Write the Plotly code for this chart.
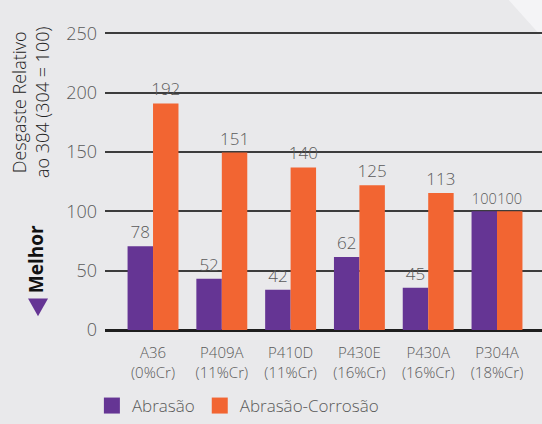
import plotly.graph_objects as go

categories = ["A36<br>(0%Cr)", "P409A<br>(11%Cr)", "P410D<br>(11%Cr)",
              "P430E<br>(16%Cr)", "P430A<br>(16%Cr)", "P304A<br>(18%Cr)"]
abrasao_bar = [70.6, 43.2, 34, 61.5, 35.7, 100]
abrasao_corr_bar = [191, 149.5, 137, 122, 115.5, 100]
abrasao_labels = ["78", "52", "42", "62", "45", "100"]
abrasao_corr_labels = ["192", "151", "140", "125", "113", "100"]
y_ticks = [0, 50, 100, 150, 200, 250]

PURPLE = "#653594"
ORANGE = "#f26532"
FONT = "Open Sans"
GRAY = "#5a5a5a"
label_sizes = [17, 17, 17, 17, 17, 14.5]

fig = go.Figure()
fig.add_trace(go.Bar(x=categories, y=abrasao_bar, name="Abrasão",
                     marker=dict(color=PURPLE, line=dict(width=0)),
                     text=abrasao_labels, textposition="outside", constraintext="none",
                     textfont=dict(family=FONT, size=label_sizes, color=GRAY, weight=300),
                     cliponaxis=False, showlegend=False))
fig.add_trace(go.Bar(x=categories, y=abrasao_corr_bar, name="Abrasão-Corrosão",
                     marker=dict(color=ORANGE, line=dict(width=0)),
                     text=abrasao_corr_labels, textposition="outside", constraintext="none",
                     textfont=dict(family=FONT, size=label_sizes, color=GRAY, weight=300),
                     cliponaxis=False, showlegend=False))
# legend entries
for nm, col in [("Abrasão", PURPLE), ("Abrasão-Corrosão", ORANGE)]:
    fig.add_trace(go.Scatter(x=[None], y=[None], mode="markers", name=nm,
                             marker=dict(symbol="square", size=16, color=col)))

fig.update_layout(
    width=542, height=424,
    margin=dict(l=105, r=0, t=31, b=90),
    paper_bgcolor="#e9e9eb", plot_bgcolor="rgba(0,0,0,0)",
    barmode="group", bargap=0.26, bargroupgap=0,
    font=dict(family=FONT, color=GRAY),
    legend=dict(orientation="h", x=-0.03, xanchor="left", y=-0.195, yanchor="top",
                font=dict(size=17, color=GRAY, weight=300), itemsizing="trace",
                bgcolor="rgba(0,0,0,0)", tracegroupgap=0),
    xaxis=dict(range=[-0.698, 5.654], showgrid=False, showline=False, ticks="",
               ticklabelstandoff=12,
               tickfont=dict(size=15, color=GRAY, weight=300)),
    yaxis=dict(range=[0, 252], tickvals=y_ticks, showgrid=True,
               gridcolor="#3c3c3c", gridwidth=1.5, zeroline=True,
               zerolinecolor="#1e1e1e", zerolinewidth=3, showline=False,
               ticks="", ticklabelstandoff=7,
               tickfont=dict(size=18, color=GRAY, weight=300)),
    shapes=[
        dict(type="path", xref="paper", yref="paper",
             path="M 0.92,1.11 L 1.0,1.11 L 1.0,0.98 Z",
             fillcolor="#f4f4f6", line=dict(width=0), layer="below"),
        dict(type="path", xref="paper", yref="paper",
             path="M -0.1762,0.1056 L -0.1304,0.1056 L -0.1533,0.0462 Z",
             fillcolor=PURPLE, line=dict(width=0)),
    ],
    annotations=[
        dict(text="Desgaste Relativo<br>ao 304 (304 = 100)", xref="paper", yref="paper",
             x=-0.172, y=0.762, xanchor="center", yanchor="middle",
             textangle=-90, showarrow=False,
             font=dict(family=FONT, size=18, color="#222222", weight=300)),
        dict(text="<b>Melhor</b>", xref="paper", yref="paper",
             x=-0.156, y=0.236, xanchor="center", yanchor="middle",
             textangle=-90, showarrow=False,
             font=dict(family=FONT, size=19, color="#111111")),
    ],
)

fig.write_html("out.html", config={"displayModeBar": False},
               post_script="document.body.style.margin='0';")
